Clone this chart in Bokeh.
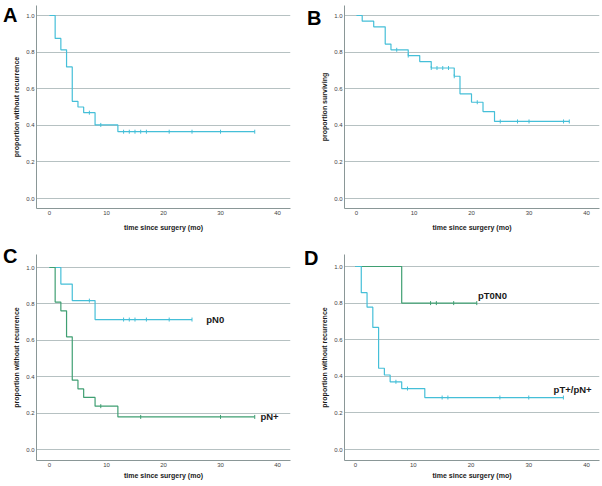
import numpy as np
from bokeh.plotting import figure
from bokeh.layouts import gridplot
from bokeh.models import FixedTicker, ColumnDataSource, Range1d, LinearAxis
from bokeh.core.properties import value
from bokeh.embed import file_html
from bokeh.resources import INLINE

# ---------------- data ----------------
A_time = [0, 1, 2, 3, 4, 5, 6, 8, 12, 36]
A_surv = [1.0, 0.875, 0.8125, 0.719, 0.531, 0.500, 0.469, 0.402, 0.365, 0.365]
A_cens = [7, 9, 13, 14, 15, 16, 17, 21, 25, 30, 36]

B_time = [0, 1, 3, 5, 6, 9, 11, 13, 17, 18, 20, 22, 24, 37]
B_surv = [1.0, 0.969, 0.938, 0.844, 0.8125, 0.781, 0.748, 0.713, 0.668, 0.572, 0.526, 0.475, 0.421, 0.421]
B_cens = [7, 9, 13, 14, 15, 16, 17, 21, 25, 28, 30, 36, 37]

C_pN0_time = [0, 2, 4, 8, 25]
C_pN0_surv = [1.0, 0.909, 0.818, 0.714, 0.714]
C_pN0_cens = [7, 13, 14, 15, 17, 21, 25]
C_pNp_time = [0, 1, 2, 3, 4, 5, 6, 8, 12, 36]
C_pNp_surv = [1.0, 0.810, 0.762, 0.619, 0.381, 0.333, 0.286, 0.238, 0.179, 0.179]
C_pNp_cens = [9, 16, 30, 36]

D_pT0_time = [0, 8, 21]
D_pT0_surv = [1.0, 0.8, 0.8]
D_pT0_cens = [13, 14, 17, 21]
D_pTp_time = [0, 1, 2, 3, 4, 5, 6, 8, 12, 36]
D_pTp_surv = [1.0, 0.857, 0.778, 0.667, 0.444, 0.407, 0.370, 0.333, 0.284, 0.284]
D_pTp_cens = [7, 9, 15, 16, 25, 30, 36]

C_labels = ["pN0", "pN+"]
C_label_x = [27.5, 37.0]
C_label_y = [0.714, 0.18]
D_labels = ["pT0N0", "pT+/pN+"]
D_label_x = [21.2, 34.3]
D_label_y = [0.842, 0.33]

panel_letters = ["A", "B", "C", "D"]
x_ticks = [0, 10, 20, 30, 40]
y_ticks = [0.0, 0.2, 0.4, 0.6, 0.8, 1.0]
y_tick_labels = ["0.0", "0.2", "0.4", "0.6", "0.8", "1.0"]
x_label = "time since surgery (mo)"

CYAN = "#45bfd8"
GREEN = "#3f9f72"
FONT = "Liberation Sans"
W, H = 301, 243


def make_panel(letter, ylabel, fl, fr, ft, fb, px0, px40, py1, py0, xls,
               letter_cy, letter_standoff):
    # fl/fr/ft/fb: frame edges in panel pixels; px0/px40: pixel of x=0/40;
    # py1/py0: pixel of y=1/0; letter_cy: pixel row of the panel letter centre
    ppx = (px40 - px0) / 40.0
    ppy = (py0 - py1) / 1.0
    xr = ((fl - px0) / ppx, (fr - px0) / ppx)
    yr = ((py0 - fb) / ppy, (py0 - ft) / ppy)
    p = figure(width=W, height=H, output_backend="svg", toolbar_location=None,
               title=None, x_range=Range1d(*xr), y_range=Range1d(*yr),
               min_border_left=fl, min_border_right=W - fr, min_border_top=ft,
               min_border_bottom=H - fb, background_fill_color="white",
               border_fill_color="white")
    p.outline_line_color = None
    p.xgrid.visible = False
    p.ygrid.ticker = FixedTicker(ticks=y_ticks)
    p.ygrid.grid_line_color = "#b6c1c2"
    p.ygrid.grid_line_width = 1
    p.xaxis.ticker = FixedTicker(ticks=x_ticks)
    p.yaxis.ticker = FixedTicker(ticks=y_ticks)
    p.yaxis.major_label_overrides = {t: s for t, s in zip(y_ticks, y_tick_labels)}
    p.xaxis.major_label_overrides = {t: str(t) for t in x_ticks}
    for ax in (p.xaxis[0], p.yaxis[0]):
        ax.major_tick_out = 0
        ax.major_tick_in = 0
        ax.minor_tick_out = 0
        ax.minor_tick_in = 0
        ax.axis_line_color = "#8a9797"
        ax.axis_line_width = 1
        ax.major_label_text_font = FONT
        ax.major_label_text_font_size = "6px"
        ax.major_label_text_color = "#444444"
        ax.axis_label_text_font = FONT
        ax.axis_label_text_font_size = "7px"
        ax.axis_label_text_font_style = "bold"
        ax.axis_label_text_color = "#1a1a1a"
    p.xaxis.major_label_standoff = 2
    p.xaxis.axis_label_standoff = xls
    p.yaxis.major_label_standoff = 2
    p.yaxis.axis_label_standoff = 3
    p.xaxis.axis_label = x_label
    p.yaxis.axis_label = ylabel

    # panel letter: an outer, line-less left axis carrying a single label
    p.extra_y_ranges = {"letter": Range1d(start=-(fb - ft), end=0)}
    tick = -(letter_cy - ft)
    lax = LinearAxis(y_range_name="letter", ticker=FixedTicker(ticks=[tick]),
                     major_label_overrides={tick: letter},
                     axis_line_color=None, major_tick_out=0, major_tick_in=0,
                     minor_tick_out=0, minor_tick_in=0,
                     major_label_standoff=letter_standoff,
                     major_label_text_font=FONT,
                     major_label_text_font_size="20px",
                     major_label_text_font_style="bold",
                     major_label_text_color="black")
    p.add_layout(lax, "left")
    return p


def add_curve(p, t, s, cens, color):
    p.step(x=t, y=s, mode="after", line_color=color, line_width=1.2)
    t_arr = np.array(t)
    s_arr = np.array(s)
    idx = np.searchsorted(t_arr, np.array(cens), side="right") - 1
    p.scatter(x=cens, y=s_arr[idx], marker="dash", angle=np.pi / 2,
              size=4, line_color=color, line_width=1)


def add_labels(p, labels, xs, ys):
    src = ColumnDataSource(dict(x=xs, y=ys, text=labels))
    p.text(x="x", y="y", text="text", source=src, text_font=value(FONT),
           text_font_size="9.5px", text_font_style="bold",
           text_baseline="middle", text_align="left", text_color="#1a1a1a")


pA = make_panel(panel_letters[0], "proportion without recurrence", 35, 290, 5, 208,
                48, 277, 15, 198, 6, 8, -7)
add_curve(pA, A_time, A_surv, A_cens, CYAN)

pB = make_panel(panel_letters[1], "proportion surviving", 42, 298, 5, 208,
                54, 285, 15, 198, 6, 17, -3)
add_curve(pB, B_time, B_surv, B_cens, CYAN)

pC = make_panel(panel_letters[2], "proportion without recurrence", 35, 290, 11, 217,
                48, 277, 24, 206, 2, 12, -7)
add_curve(pC, C_pN0_time, C_pN0_surv, C_pN0_cens, CYAN)
add_curve(pC, C_pNp_time, C_pNp_surv, C_pNp_cens, GREEN)
add_labels(pC, C_labels, C_label_x, C_label_y)

pD = make_panel(panel_letters[3], "proportion without recurrence", 43, 298, 11, 217,
                54, 285, 23, 206, 2, 14, 0)
add_curve(pD, D_pT0_time, D_pT0_surv, D_pT0_cens, GREEN)
add_curve(pD, D_pTp_time, D_pTp_surv, D_pTp_cens, CYAN)
add_labels(pD, D_labels, D_label_x, D_label_y)

grid = gridplot([[pA, pB], [pC, pD]], toolbar_location=None)

open("out.html", "w").write(file_html(grid, INLINE))
